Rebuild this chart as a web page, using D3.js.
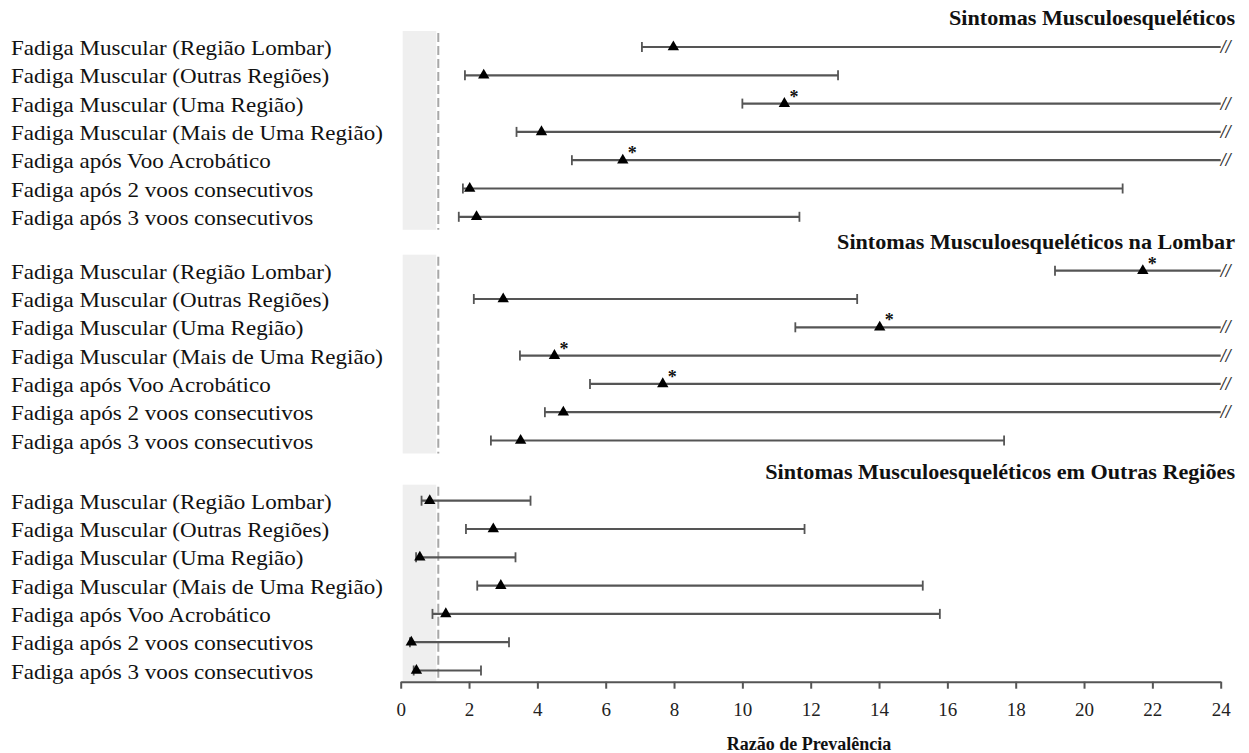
<!DOCTYPE html>
<html>
<head>
<meta charset="utf-8">
<script src="https://cdn.jsdelivr.net/npm/d3@7"></script>
<style>
  body { margin: 0; background: #fff; }
  svg { display: block; }
  svg text { font-family: "Liberation Serif", "Times New Roman", serif; }
</style>
</head>
<body>
<svg id="chart" width="1249" height="753"></svg>
<script>
// linhas (iguais nos 3 blocos)
const rowLabels = [
  "Fadiga Muscular (Região Lombar)",
  "Fadiga Muscular (Outras Regiões)",
  "Fadiga Muscular (Uma Região)",
  "Fadiga Muscular (Mais de Uma Região)",
  "Fadiga após Voo Acrobático",
  "Fadiga após 2 voos consecutivos",
  "Fadiga após 3 voos consecutivos"
];

const sectionTitles = [
  "Sintomas Musculoesqueléticos",
  "Sintomas Musculoesqueléticos na Lombar",
  "Sintomas Musculoesqueléticos em Outras Regiões"
];

// razão de prevalência, IC inferior, IC superior (null = passa de 24, marcado com //)
const rpGeral  = [7.98, 2.43, 11.23, 4.12, 6.50, 2.02, 2.22];
const infGeral = [7.06, 1.88, 10.00, 3.39, 5.01, 1.82, 1.70];
const supGeral = [null, 12.80, null, null, null, 21.13, 11.67];
const sigGeral = [0, 0, 1, 0, 1, 0, 0];

const rpLombar  = [21.72, 3.00, 14.02, 4.50, 7.67, 4.76, 3.51];
const infLombar = [19.15, 2.14, 11.55, 3.49, 5.54, 4.22, 2.64];
const supLombar = [null, 13.36, null, null, null, null, 17.66];
const sigLombar = [1, 0, 1, 1, 1, 0, 0];

const rpOutras  = [0.85, 2.71, 0.56, 2.93, 1.32, 0.31, 0.46];
const infOutras = [0.61, 1.91, 0.45, 2.24, 0.93, 0.27, 0.38];
const supOutras = [3.80, 11.82, 3.36, 15.28, 15.78, 3.17, 2.35];
const sigOutras = [0, 0, 0, 0, 0, 0, 0];

const xTicks = [0, 2, 4, 6, 8, 10, 12, 14, 16, 18, 20, 22, 24];
const xMax = 24;
const refValue = 1.1; // linha tracejada de referência
const axisTitle = "Razão de Prevalência";

const sections = [
  { rp: rpGeral, inf: infGeral, sup: supGeral, sig: sigGeral },
  { rp: rpLombar, inf: infLombar, sup: supLombar, sig: sigLombar },
  { rp: rpOutras, inf: infOutras, sup: supOutras, sig: sigOutras }
];

const svg = d3.select("#chart");
const x = d3.scaleLinear().domain([0, xMax]).range([400.7, 1220.7]);
const sectionTop = [47, 270.7, 500.7];   // y da primeira linha de cada bloco
const rowStep = 28.3;
const axisY = 681.7;
const lineColor = "#555";

// faixa cinza + linha tracejada por bloco
sections.forEach((s, si) => {
  const y0 = sectionTop[si] - 16;
  const y1 = si === 2 ? axisY : sectionTop[si] + 6 * rowStep + 13;
  svg.append("rect")
    .attr("x", x(0) + 2)
    .attr("y", y0)
    .attr("width", x(refValue) - x(0) - 4)
    .attr("height", y1 - y0)
    .attr("fill", "#efefef");
  svg.append("line")
    .attr("x1", x(refValue)).attr("x2", x(refValue))
    .attr("y1", y0 + 2).attr("y2", y1)
    .attr("stroke", "#a8a8a8")
    .attr("stroke-width", 2)
    .attr("stroke-dasharray", "9,4");
});

// títulos dos blocos
const titles = svg.selectAll(".title")
  .data(sectionTitles)
  .enter().append("text")
  .attr("class", "title")
  .attr("text-anchor", "end")
  .attr("font-weight", "bold")
  .attr("font-size", 20)
  .attr("fill", "#111")
  .text(d => d);

// rótulos das linhas
const labelG = svg.append("g");
sections.forEach((s, si) => {
  rowLabels.forEach((lab, i) => {
    labelG.append("text")
      .attr("class", "rowlabel")
      .attr("data-y", sectionTop[si] + i * rowStep + 8)
      .attr("font-size", 20)
      .attr("fill", "#111")
      .text(lab);
  });
});

// esticar o texto na horizontal como na figura original
let maxW = 0;
labelG.selectAll("text").each(function() { maxW = Math.max(maxW, this.getComputedTextLength()); });
const sxLabel = 372 / maxW;
labelG.selectAll("text").each(function() {
  const t = d3.select(this);
  t.attr("transform", `translate(11,${t.attr("data-y")}) scale(${sxLabel},1)`);
});

let maxT = 0;
titles.each(function() { maxT = Math.max(maxT, this.getComputedTextLength()); });
const sxTitle = 470 / maxT;
titles.attr("transform", (d, i) => `translate(1235,${sectionTop[i] - 22}) scale(${sxTitle},1)`);

// intervalos de confiança
sections.forEach((s, si) => {
  const rows = s.rp.map((v, i) => ({
    rp: v, inf: s.inf[i], sup: s.sup[i], sig: s.sig[i],
    y: sectionTop[si] + i * rowStep
  }));
  const g = svg.append("g");

  g.selectAll(".ci").data(rows).enter().append("line")
    .attr("x1", d => x(d.inf))
    .attr("x2", d => x(d.sup === null ? xMax : d.sup))
    .attr("y1", d => d.y).attr("y2", d => d.y)
    .attr("stroke", lineColor).attr("stroke-width", 2.2);

  g.selectAll(".capL").data(rows).enter().append("line")
    .attr("x1", d => x(d.inf)).attr("x2", d => x(d.inf))
    .attr("y1", d => d.y - 5).attr("y2", d => d.y + 5)
    .attr("stroke", lineColor).attr("stroke-width", 1.8);

  g.selectAll(".capR").data(rows.filter(d => d.sup !== null)).enter().append("line")
    .attr("x1", d => x(d.sup)).attr("x2", d => x(d.sup))
    .attr("y1", d => d.y - 5).attr("y2", d => d.y + 5)
    .attr("stroke", lineColor).attr("stroke-width", 1.8);

  g.selectAll(".brk").data(rows.filter(d => d.sup === null)).enter().append("text")
    .attr("x", x(xMax))
    .attr("y", d => d.y + 6)
    .attr("font-size", 18)
    .attr("font-style", "italic")
    .attr("font-weight", "bold")
    .attr("fill", "#333")
    .text("//");

  g.selectAll(".pt").data(rows).enter().append("path")
    .attr("d", d3.symbol(d3.symbolTriangle, 56))
    .attr("transform", d => `translate(${x(d.rp)},${d.y})`)
    .attr("fill", "#000");

  g.selectAll(".sig").data(rows.filter(d => d.sig)).enter().append("text")
    .attr("x", d => x(d.rp) + 5)
    .attr("y", d => d.y - 1)
    .attr("font-size", 18)
    .attr("font-weight", "bold")
    .attr("fill", "#111")
    .text("*");
});

// eixo x
const axis = svg.append("g")
  .attr("transform", `translate(0,${axisY})`)
  .call(d3.axisBottom(x).tickValues(xTicks).tickSize(7).tickSizeOuter(0).tickPadding(14));
axis.attr("font-family", null);
axis.select(".domain").attr("stroke", "#555").attr("stroke-width", 2);
axis.selectAll(".tick line").attr("stroke", "#555").attr("stroke-width", 2);
axis.selectAll(".tick text")
  .attr("font-size", 19)
  .attr("fill", "#222");

svg.append("text")
  .attr("x", 809)
  .attr("y", 750)
  .attr("text-anchor", "middle")
  .attr("font-weight", "bold")
  .attr("font-size", 18)
  .attr("fill", "#111")
  .text(axisTitle);
</script>
</body>
</html>
